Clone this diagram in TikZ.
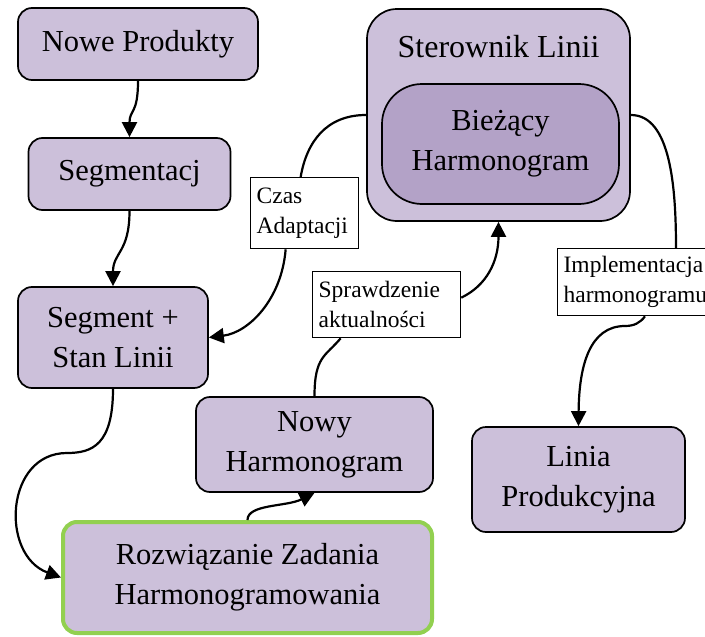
\documentclass[tikz,border=0pt]{standalone}
\usepackage{fontspec}
\setmainfont{Liberation Serif}
\usetikzlibrary{arrows.meta}
\definecolor{lav}{HTML}{CCC0DA}
\definecolor{lavdark}{HTML}{B3A2C7}
\definecolor{limeedge}{HTML}{92D050}
\newcommand\boxfont{\fontsize{30.5}{40}\selectfont}
\newcommand\titlefont{\fontsize{32}{40}\selectfont}
\newcommand\lblfont{\fontsize{23.5}{30}\selectfont}

\begin{document}
\begin{tikzpicture}[x=1pt,y=-1pt,
  block/.style={draw=black, line width=1.7pt, fill=lav, rounded corners=14pt,
    align=center, font=\boxfont, inner sep=0pt},
  tag/.style={draw=black, line width=1.3pt, fill=white, align=left,
    font=\lblfont, inner xsep=6pt, inner ysep=3pt, anchor=north west},
  flow/.style={line width=2.2pt, -{Triangle[length=15pt,width=15pt]}},
  link/.style={line width=2.2pt}]

\clip (0,0) rectangle (705,637);

% process boxes
\node[block, minimum width=240pt, minimum height=72pt] (np) at (138,44) {Nowe Produkty};
\node[block, minimum width=202pt, minimum height=72pt] (sg) at (129.5,174) {Segmentacj};
\node[block, minimum width=190pt, minimum height=101pt] (ss) at (113,337.5) {Segment +\\Stan Linii};
\node[block, minimum width=237pt, minimum height=95pt] (nw) at (314.5,444.5) {Nowy\\Harmonogram};
\node[block, draw=limeedge, line width=4pt, minimum width=369pt, minimum height=111pt] (rz)
  at (247.5,577.5) {Rozwiązanie Zadania\\Harmonogramowania};
\node[block, minimum width=213pt, minimum height=105pt] (li) at (578.5,479.5) {Linia\\Produkcyjna};

% line controller with the current schedule inside
\node[block, rounded corners=30pt, minimum width=263pt, minimum height=212pt] (ster) at (498.5,115) {};
\node[font=\titlefont] (stertitle) at (498.5,47) {Sterownik Linii};
\node[block, fill=lavdark, rounded corners=40pt, minimum width=237pt, minimum height=120pt] (cur)
  at (500.5,144) {Bieżący\\Harmonogram};

% edge labels
\node[tag, text width=96pt, minimum height=71pt] (czas) at (250,177) {Czas\\Adaptacji};
\node[tag, text width=136pt, minimum height=66pt] (sp) at (312,271) {Sprawdzenie\\aktualności};
\node[tag, text width=150pt, minimum height=67pt] (im) at (557,248) {Implementacja\\harmonogramu};

% connectors
\draw[flow] (np.south) .. controls +(0,34) and +(0,-28) .. (sg.north);
\draw[flow] (sg.south) .. controls +(0,42) and +(0,-34) .. (ss.north);

\draw[link] (ster.west) .. controls +(-40,0) and +(6,-35) .. ([xshift=-4pt]czas.north);
\draw[flow] ([xshift=-19pt]czas.south) .. controls +(-4,50) and +(40,-5) .. (ss.east);

\coordinate (bend) at (67,453);
\draw[flow] (ss.south) .. controls (113,445) and (92,453) .. (bend)
  .. controls (5,453) and (0,555) .. (rz.west);

\draw[flow] (rz.north) .. controls +(0,-16) and +(-28,14) .. (nw.south);

\draw[link] (nw.north) .. controls +(0,-40) and +(-15,18) .. ([xshift=-46pt]sp.south);
\draw[flow] ([yshift=7pt]sp.east) .. controls +(25,-12) and +(0,40) .. (ster.south);

\draw[link] (ster.east) .. controls +(40,0) and +(0,-60) .. ([xshift=119pt]im.north west);
\coordinate (kink) at (625,326);
\draw[flow] ([xshift=88pt]im.south west) .. controls (640,323) and (634,326) .. (kink)
  .. controls (590,326) and (579,365) .. (li.north);

\end{tikzpicture}
\end{document}
